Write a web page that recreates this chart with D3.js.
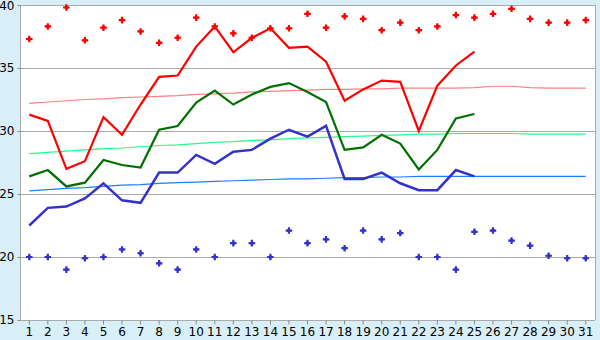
<!DOCTYPE html>
<html>
<head>
<meta charset="utf-8">
<script src="https://cdn.jsdelivr.net/npm/d3@7"></script>
<style>
body { margin: 0; background: #d9eff7; }
svg { display: block; }
.tick text { font-family: "DejaVu Sans", sans-serif; font-size: 12px; fill: #000; }
</style>
</head>
<body>
<script>
//chart data
var days = d3.range(1, 32);
var maxLine = [31.3, 30.8, 27.0, 27.6, 31.1, 29.7, 32.1, 34.3, 34.4, 36.7, 38.3, 36.25, 37.4, 38.15, 36.6, 36.7, 35.5, 32.4, 33.3, 34.0, 33.9, 30.0, 33.6, 35.2, 36.3];
var meanLine = [26.4, 26.9, 25.6, 25.9, 27.7, 27.3, 27.1, 30.1, 30.4, 32.25, 33.2, 32.1, 32.9, 33.5, 33.8, 33.1, 32.3, 28.5, 28.7, 29.7, 29.0, 26.95, 28.5, 31.0, 31.35];
var minLine = [22.5, 23.9, 24.0, 24.65, 25.85, 24.5, 24.3, 26.7, 26.7, 28.1, 27.4, 28.35, 28.5, 29.4, 30.1, 29.55, 30.4, 26.2, 26.2, 26.7, 25.85, 25.3, 25.3, 26.9, 26.4];
var recordMax = [37.3, 38.3, 39.8, 37.2, 38.2, 38.8, 37.9, 37.0, 37.4, 39.0, 38.3, 37.75, 37.4, 38.15, 38.15, 39.3, 38.2, 39.1, 38.9, 38.0, 38.6, 38.0, 38.3, 39.2, 39.0, 39.3, 39.7, 38.9, 38.6, 38.6, 38.8];
var recordMin = [20.0, 20.0, 19.0, 19.9, 20.0, 20.6, 20.3, 19.5, 19.0, 20.6, 20.0, 21.1, 21.1, 20.0, 22.1, 21.1, 21.4, 20.7, 22.1, 21.4, 21.9, 20.0, 20.0, 19.0, 22.0, 22.1, 21.3, 20.9, 20.1, 19.9, 19.9];
var normalMax = [32.2, 32.3, 32.4, 32.5, 32.55, 32.65, 32.7, 32.75, 32.8, 32.9, 32.95, 33.0, 33.1, 33.15, 33.2, 33.25, 33.3, 33.3, 33.35, 33.35, 33.4, 33.4, 33.4, 33.4, 33.45, 33.55, 33.55, 33.45, 33.4, 33.4, 33.4];
var normalMean = [28.2, 28.3, 28.4, 28.5, 28.6, 28.65, 28.75, 28.85, 28.9, 29.0, 29.1, 29.15, 29.25, 29.3, 29.4, 29.45, 29.5, 29.55, 29.6, 29.65, 29.7, 29.75, 29.75, 29.8, 29.8, 29.8, 29.8, 29.75, 29.75, 29.75, 29.75];
var normalMin = [25.25, 25.35, 25.45, 25.5, 25.6, 25.7, 25.75, 25.85, 25.9, 25.95, 26.0, 26.05, 26.1, 26.15, 26.2, 26.2, 26.25, 26.3, 26.3, 26.35, 26.35, 26.4, 26.4, 26.4, 26.4, 26.4, 26.4, 26.4, 26.4, 26.4, 26.4];
var yTicks = [15, 20, 25, 30, 35, 40];

(function(){
//frame
var width = 600, height = 340,
    padLeft = 20, padRight = 595, padTop = 5, padBottom = 320;

var svg = d3.select("body").append("svg")
    .attr("width", width)
    .attr("height", height);

svg.append("rect")
    .attr("width", width).attr("height", height)
    .attr("fill", "#d9eff7");

svg.append("rect")
    .attr("x", padLeft).attr("y", padTop)
    .attr("width", padRight - padLeft).attr("height", padBottom - padTop)
    .attr("fill", "#fff");

var x = d3.scaleBand().domain(days).range([padLeft, padRight]);
var y = d3.scaleLinear().domain([15, 40]).range([padBottom, padTop]);
function cx(d){ return x(d) + x.bandwidth() / 2; }

//grid lines
svg.selectAll(".grid")
    .data(yTicks.slice(1))
    .enter().append("line")
    .attr("x1", padLeft).attr("x2", padRight)
    .attr("y1", function(d){ return Math.round(y(d)) + 0.5; })
    .attr("y2", function(d){ return Math.round(y(d)) + 0.5; })
    .attr("stroke", "#aaa");

//right border
svg.append("line")
    .attr("x1", padRight + 0.5).attr("x2", padRight + 0.5)
    .attr("y1", padTop).attr("y2", padBottom)
    .attr("stroke", "#aaa");

//axes
var yAxis = svg.append("g")
    .attr("transform", "translate(" + (padLeft + 0.5) + ",0)")
    .call(d3.axisLeft(y).tickValues(yTicks).tickSize(3).tickPadding(3));
var xAxis = svg.append("g")
    .attr("transform", "translate(0," + (padBottom + 0.5) + ")")
    .call(d3.axisBottom(x).tickSize(4).tickPadding(3).tickSizeOuter(0));
[yAxis, xAxis].forEach(function(g){
    g.select(".domain").attr("stroke", "#aaa");
    g.selectAll(".tick line").attr("stroke", "#888");
});
yAxis.select(".domain").attr("d", "M0," + padBottom + "V" + padTop);
xAxis.select(".domain").attr("d", "M" + padLeft + ",0H" + padRight);
//keep the top label inside the picture
yAxis.selectAll(".tick text").filter(function(d){ return d === 40; }).attr("dy", "0.4em");

//line drawing helper
function drawLine(data, color, w){
    var line = d3.line()
        .x(function(d, i){ return cx(days[i]); })
        .y(function(d){ return y(d); });
    svg.append("path")
        .datum(data)
        .attr("d", line)
        .attr("fill", "none")
        .attr("stroke", color)
        .attr("stroke-width", w);
}

drawLine(normalMax, "#ff8080", 1.2);
drawLine(normalMean, "#22ff88", 1.2);
drawLine(normalMin, "#1a80ff", 1.2);
drawLine(maxLine, "#ff0000", 2.2);
drawLine(meanLine, "#007000", 2.2);
drawLine(minLine, "#3333cc", 2.5);

//record points
var cross = d3.symbol().type(d3.symbolCross).size(24);
var diamond = d3.symbol().type(d3.symbolDiamond2).size(16);
function drawPoints(data, color){
    var g = svg.append("g").selectAll("g")
        .data(data)
        .enter().append("g")
        .attr("transform", function(d, i){ return "translate(" + cx(days[i]) + "," + y(d) + ")"; });
    g.append("path").attr("d", cross).attr("fill", color);
    g.append("path").attr("d", diamond).attr("fill", color);
}
drawPoints(recordMax, "#ff0000");
drawPoints(recordMin, "#3333cc");
})();
</script>
</body>
</html>
